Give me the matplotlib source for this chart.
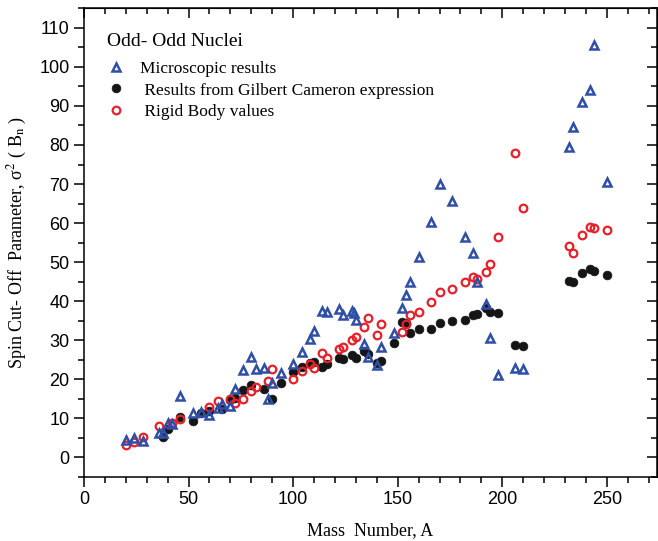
import matplotlib
matplotlib.use("Agg")
import matplotlib.pyplot as plt
from matplotlib.ticker import MultipleLocator

# Data
# =====================================
# Microscopic results (open blue triangles)
micro_A = [20, 24, 28, 36, 38, 40, 42, 46, 52, 56, 60, 64, 66, 70, 72, 76, 80, 82,
           86, 88, 90, 94, 100, 104, 108, 110, 114, 116, 122, 124, 128, 129, 130,
           134, 136, 140, 142, 148, 152, 154, 156, 160, 166, 170, 176, 182, 186,
           188, 192, 194, 198, 206, 210, 232, 234, 238, 242, 244, 250]
micro_s2 = [4.3, 5.0, 4.2, 6.2, 6.2, 8.7, 8.5, 15.7, 11.2, 11.6, 10.8, 12.5, 13.7,
            13.2, 17.4, 22.2, 25.7, 22.5, 22.7, 14.8, 19.1, 21.6, 23.8, 26.8, 30.2,
            32.4, 37.4, 37.2, 37.9, 36.4, 37.4, 37.0, 35.1, 29.0, 25.6, 23.5, 28.1,
            31.7, 38.3, 41.5, 45.0, 51.4, 60.3, 69.9, 65.7, 56.5, 52.2, 45.0, 39.2,
            30.4, 20.9, 22.7, 22.5, 79.6, 84.7, 91.1, 94.1, 105.6, 70.6]

# Gilbert Cameron expression (filled black circles)
gc_A = [38, 40, 46, 52, 56, 60, 66, 70, 72, 76, 80, 86, 90, 94, 100, 104, 108,
        110, 114, 116, 122, 124, 128, 130, 134, 136, 140, 142, 148, 152, 154, 156,
        160, 166, 170, 176, 182, 186, 188, 192, 194, 198, 206, 210, 232, 234, 238,
        242, 244, 250]
gc_s2 = [5.2, 7.2, 10.2, 9.3, 11.2, 11.7, 12.4, 14.6, 15.2, 17.2, 18.4, 17.4,
         14.9, 18.9, 21.8, 23.2, 24.0, 24.4, 23.2, 23.9, 25.3, 25.1, 26.2, 25.4,
         27.1, 26.3, 24.2, 24.6, 29.2, 34.7, 34.4, 31.7, 32.8, 32.9, 34.4, 34.9,
         35.1, 36.4, 36.6, 38.3, 37.3, 36.8, 28.7, 28.5, 45.2, 45.0, 47.1, 48.3,
         47.7, 46.7]

# Rigid body values (open red circles)
rigid_A = [20, 24, 28, 36, 42, 46, 60, 64, 70, 72, 76, 80, 82, 88, 90, 100, 104,
           108, 110, 114, 116, 122, 124, 128, 130, 134, 136, 140, 142, 152, 154,
           156, 160, 166, 170, 176, 182, 186, 188, 192, 194, 198, 206, 210, 232,
           234, 238, 242, 244, 250]
rigid_s2 = [3.0, 3.9, 5.2, 8.0, 8.8, 9.7, 12.8, 14.4, 15.0, 13.8, 15.0, 17.0, 17.9,
            19.5, 22.5, 20.1, 22.0, 23.9, 22.7, 26.6, 25.3, 27.7, 28.1, 30.1, 30.7,
            33.4, 35.6, 31.4, 34.1, 32.1, 34.1, 36.3, 37.3, 39.8, 42.4, 43.2, 44.8,
            46.1, 45.6, 47.4, 49.4, 56.5, 78.0, 63.9, 54.2, 52.4, 57.0, 59.1, 58.6,
            58.3]

x_ticks = [0, 50, 100, 150, 200, 250]
y_ticks = [0, 10, 20, 30, 40, 50, 60, 70, 80, 90, 100, 110]

BLUE = '#2f4fa6'
RED = '#e8202a'
SERIF = 'Liberation Serif'
SANS = 'Liberation Sans'

plt.rcParams['mathtext.fontset'] = 'stix'

fig = plt.figure(figsize=(6.58, 5.41), dpi=100)
ax = fig.add_axes([0.1277, 0.1192, 0.8708, 0.8651])

ax.plot(micro_A, micro_s2, linestyle='none', marker='^', ms=6.3, mfc='none',
        mec=BLUE, mew=1.8, label='Microscopic results', zorder=3)
ax.plot(gc_A, gc_s2, linestyle='none', marker='o', ms=6.3, mfc='#151515',
        mec='#151515', mew=0.5, label=' Results from Gilbert Cameron expression',
        zorder=2)
ax.plot(rigid_A, rigid_s2, linestyle='none', marker='o', ms=5.5, mfc='none',
        mec=RED, mew=1.6, label=' Rigid Body values', zorder=2.5)

ax.set_xlim(0, 274)
ax.set_ylim(-5, 115)
ax.set_xticks(x_ticks)
ax.set_yticks(y_ticks)
ax.xaxis.set_minor_locator(MultipleLocator(10))
ax.yaxis.set_minor_locator(MultipleLocator(5))
ax.tick_params(which='major', direction='out', length=7, width=1.1,
               labelsize=13)
ax.tick_params(which='minor', direction='out', length=4, width=1.1)
for lab in ax.get_xticklabels() + ax.get_yticklabels():
    lab.set_fontfamily(SANS)
for sp in ax.spines.values():
    sp.set_linewidth(1.1)

# mirrored ticks pointing inward on top and right
top = ax.secondary_xaxis('top')
top.set_xticks(x_ticks)
top.xaxis.set_minor_locator(MultipleLocator(10))
top.tick_params(which='major', direction='in', length=7, width=1.1, labeltop=False)
top.tick_params(which='minor', direction='in', length=4, width=1.1)
right = ax.secondary_yaxis('right')
right.set_yticks(y_ticks)
right.yaxis.set_minor_locator(MultipleLocator(5))
right.tick_params(which='major', direction='in', length=7, width=1.1, labelright=False)
right.tick_params(which='minor', direction='in', length=4, width=1.1)

ax.set_xlabel('Mass  Number, A', family=SERIF, fontsize=13, labelpad=10)
ax.set_ylabel(r'Spin Cut- Off  Parameter, σ$^{2}$ ( B$_{\mathrm{n}}$ )',
              family=SERIF, fontsize=13, labelpad=7)

leg = ax.legend(loc='upper left', bbox_to_anchor=(0.022, 0.97), frameon=False,
                title='Odd- Odd Nuclei', alignment='left', handlelength=1.0,
                handletextpad=0.9, labelspacing=0.3, borderaxespad=0.2,
                prop={'family': SERIF, 'size': 12.5},
                title_fontproperties={'family': SERIF, 'size': 14})
leg._legend_box.sep = 8

fig.savefig('out.png', dpi=100)
